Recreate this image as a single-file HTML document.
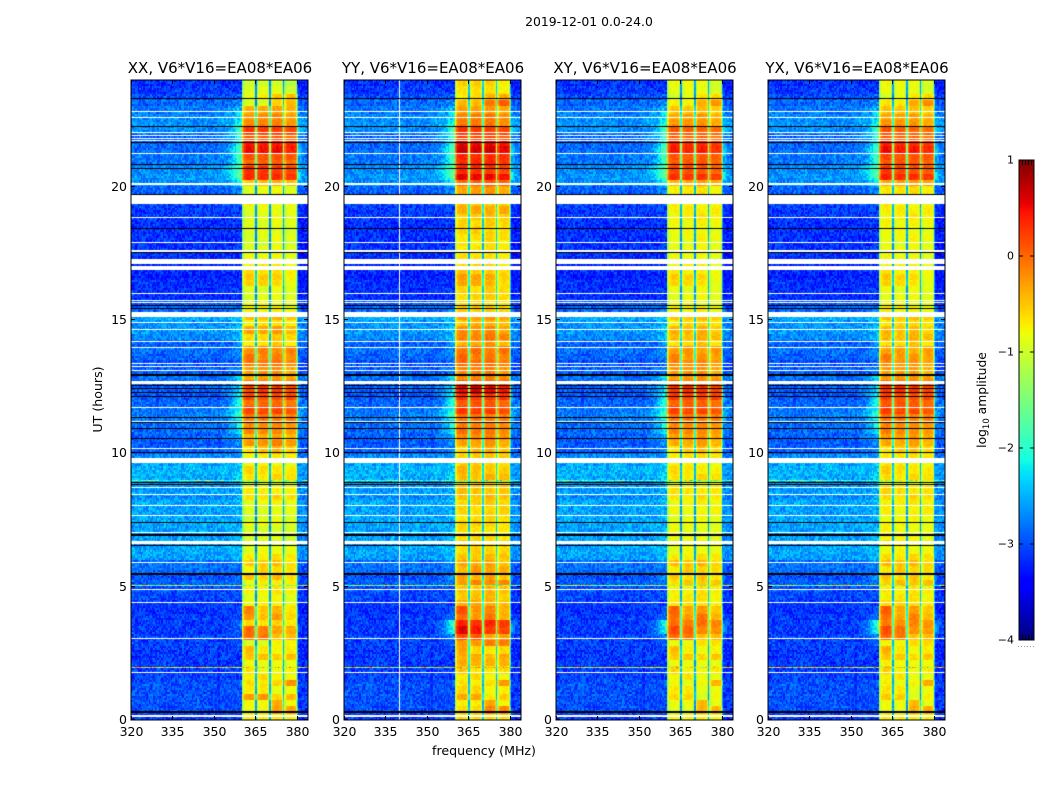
<!DOCTYPE html>
<html>
<head>
<meta charset="utf-8">
<title>2019-12-01 0.0-24.0</title>
<style>
html,body{margin:0;padding:0;background:#fff;}
#figure{position:relative;width:1050px;height:800px;overflow:hidden;background:#fff;font-family:"DejaVu Sans","Liberation Sans",sans-serif;color:#000;}
canvas{position:absolute;display:block;}
#overlay{position:absolute;left:0;top:0;}
#overlay text{font-family:"DejaVu Sans","Liberation Sans",sans-serif;fill:#000;}
</style>
</head>
<body>
<div id="figure">
<svg id="overlay" width="1050" height="800" xmlns="http://www.w3.org/2000/svg">
  <text x="589" y="26" text-anchor="middle" font-size="12.4">2019-12-01 0.0-24.0</text>
  <text x="484" y="755" text-anchor="middle" font-size="12.6">frequency (MHz)</text>
  <text transform="translate(102,399.5) rotate(-90)" text-anchor="middle" font-size="12.6">UT (hours)</text>
  <text transform="translate(986,400) rotate(-90)" text-anchor="middle" font-size="12.3">log<tspan font-size="8.5" dy="3">10</tspan><tspan dy="-3"> amplitude</tspan></text>
</svg>
</div>
<script>
// ---- Chart data ----
const panelTitles = ["XX, V6*V16=EA08*EA06", "YY, V6*V16=EA08*EA06", "XY, V6*V16=EA08*EA06", "YX, V6*V16=EA08*EA06"];
const freqTicks = [320, 335, 350, 365, 380];
const utTicks = [0, 5, 10, 15, 20];
const colorbarTicks = [1, 0, -1, -2, -3, -4];

// Log10 amplitude of the observing band, one value per quarter hour from UT 0 to 24
const bandXX = [-.7,-.55,-.7,-.35, -.8,-.5,-.7,-.75, -.85,-.5,-.6,-.85, -.2,-.15,-.6,-.4, -.45,-.8,-.85,-.75, -.75,-.55,-.65,-.55, -.7,-.85,-.9,-.95, -.95,-.85,-.95,-.9, -.85,-.65,-.75,-.95, -.65,-.65,-.85,-.75, -.55,-.2,-.4,-.2, -.2,-.1,.15,-.05, .15,.2,-.1,-.35, -.3,-.1,-.15,-.2, -.65,-.6,-.35,-.7, -.45,-.75,-.85,-.9, -.9,-.65,-.6,-.65, -.75,-.85,-.9,-.95, -.9,-.95,-.9,-.9, -.9,-.75,-.85,-.85, -.45,.3,.25,0, .1,.45,.4,.05, .25,-.2,-.25,-.35, -.75,-.65,-.9,-1];
const bandYY = [-.6,-.4,-.65,-.45, -.7,-.55,-.7,-.6, -.4,-.4,-.5,-.2, -.05,.4,.35,-.2, -.2,-.4,-.5,-.5, -.2,-.4,-.35,-.4, -.5,-.6,-.6,-.65, -.65,-.6,-.65,-.6, -.6,-.5,-.5,-.6, -.45,-.5,-.6,-.55, -.5,-.3,-.2,-.1, -.15,-.1,.2,.05, .25,.5,.05,-.2, -.2,-.05,-.1,-.1, -.35,-.15,-.25,-.45, -.3,-.55,-.65,-.6, -.6,-.45,-.4,-.55, -.65,-.7,-.7,-.7, -.65,-.6,-.6,-.55, -.4,-.5,-.6,-.3, .05,.5,.25,.3, .3,.6,.5,.15, .25,-.15,-.15,-.3, -.25,-.55,-.65,-.55];
const bandXY = [-.75,-.65,-.75,-.7, -.8,-.7,-.75,-.7, -.85,-.55,-.65,-.75, -.2,0,-.05,-.2, -.3,-.7,-.7,-.75, -.55,-.6,-.6,-.5, -.7,-.85,-.8,-.85, -.85,-.85,-.85,-.8, -.8,-.7,-.7,-.85, -.65,-.7,-.8,-.7, -.6,-.35,-.3,-.2, -.2,-.1,.15,0, .2,.25,-.1,-.3, -.3,-.2,-.25,-.3, -.6,-.45,-.45,-.65, -.5,-.75,-.85,-.85, -.85,-.7,-.65,-.75, -.8,-.85,-.85,-.85, -.8,-.85,-.8,-.75, -.75,-.75,-.8,-.7, -.35,.25,.1,.05, .05,.35,.3,0, .05,-.3,-.35,-.5, -.55,-.8,-.85,-.8];
const bandYX = [-.7,-.6,-.75,-.65, -.8,-.65,-.75,-.7, -.8,-.55,-.6,-.7, -.2,-.05,-.15,-.25, -.3,-.65,-.7,-.75, -.5,-.6,-.6,-.5, -.65,-.8,-.75,-.8, -.8,-.8,-.8,-.75, -.75,-.65,-.65,-.8, -.65,-.65,-.75,-.7, -.6,-.35,-.3,-.2, -.2,-.1,.15,.05, .15,.25,-.1,-.3, -.35,-.25,-.25,-.35, -.6,-.45,-.5,-.65, -.5,-.75,-.85,-.85, -.85,-.7,-.65,-.75, -.8,-.85,-.85,-.85, -.8,-.85,-.8,-.75, -.75,-.75,-.8,-.65, -.3,.3,.15,.05, .1,.4,.3,0, .05,-.3,-.35,-.5, -.5,-.8,-.85,-.8];

// Per-subband departure from the band level, one value per quarter hour
const subband1Swing = [0,-.25,-.1,.1, .1,-.1,0,.1, 0,0,.15,-.1, .15,.15,0,.15, .3,0,-.05,0, -.1,.1,-.1,.05, 0,-.05,.05,0, .05,0,-.05,0, -.05,0,.05,-.05, 0,.1,0,-.05, -.1,0,0,.05, .05,0,.05,0, .05,0,.05,-.05, 0,.05,.1,0, -.05,0,.05,-.1, 0,.05,0,-.05, 0,.1,.1,.05, 0,.05,-.05,0, -.05,0,.05,-.05, 0,.05,0,-.05, -.05,.05,.05,0, .05,.05,.05,.05, .05,.05,0,0, -.2,-.2,0,0];
const subband2Swing = [0,-.25,-.1,.1, .1,-.2,.1,-.1, 0,.05,-.1,-.1, .1,0,-.05,-.1, -.1,.05,0,-.05, .05,-.05,.1,0, -.05,.05,0,.05, 0,.05,0,-.05, .05,-.05,0,.05, -.05,0,.05,0, .05,-.05,0,0, 0,.05,0,.05, 0,.05,0,.05, .05,0,-.05,.05, 0,-.05,0,.05, -.05,0,.05,0, -.05,.1,.05,0, .05,0,0,-.05, 0,.05,-.05,0, .05,0,-.05,0, 0,0,0,.05, 0,0,0,0, 0,.05,.05,0, -.2,-.1,0,0];
const subband3Swing = [0,.2,.3,-.3, -.1,-.1,-.1,-.1, 0,-.1,-.2,.1, -.3,-.2,0,.1, 0,0,.05,.05, 0,.1,0,.05, .05,0,-.05,0, -.05,0,.05,0, .05,.05,-.05,0, .05,-.05,0,.05, .1,.05,.05,0, 0,-.05,0,0, -.05,0,-.05,.05, .05,.05,0,-.05, .1,.05,.05,.05, .05,0,-.05,.05, .05,0,0,0, .05,0,.05,.05, .05,0,.05,.05, 0,-.05,.05,.05, .05,0,-.05,.05, 0,0,0,0, -.05,.05,.05,0, .15,.1,0,0];
const subband4Swing = [0,.2,-.1,-.1, 0,.3,-.1,0, 0,.05,-.1,.1, -.2,-.2,-.1,-.2, -.2,-.05,-.05,0, .05,-.1,0,-.1, 0,0,0,-.05, 0,-.05,0,.05, 0,0,0,0, 0,-.05,-.05,0, 0,-.05,-.05,-.05, 0,0,-.05,-.05, 0,-.05,0,0, -.05,-.05,-.05,.05, -.1,0,-.1,0, -.05,-.05,0,0, 0,-.15,-.15,-.05, -.05,-.05,0,-.05, 0,-.05,0,0, .05,0,0,-.05, 0,-.05,-.05,-.05, 0,-.05,-.05,-.05, -.05,-.05,-.05,-.05, .3,.2,-.1,-.15];

// Log10 amplitude outside the band, one value per quarter hour
const backgroundLevels = [-3.1,-3,-3,-3, -3,-3,-3.05,-3.1, -3.1,-3.1,-3.1,-3.05, -3.05,-3.1,-3.1,-3.1, -3.15,-3.1,-3.05,-3, -2.9,-3,-2.85,-2.8, -2.6,-2.55,-2.6,-2.6, -2.6,-2.55,-2.6,-2.6, -2.55,-2.65,-2.6,-2.65, -2.55,-2.5,-2.55,-2.7, -2.9,-2.95,-2.9,-2.85, -2.85,-2.75,-2.8,-2.9, -2.95,-2.9,-2.85,-2.8, -2.95,-3,-2.9,-2.85, -2.9,-2.7,-2.65,-2.7, -2.55,-2.9,-2.95,-3.15, -3.15,-3.15,-3.2,-3.2, -3.2,-3.2,-3.15,-3.15, -3.15,-3.15,-3.15,-3.1, -3.1,-3.05,-2.95,-2.9, -2.7,-2.65,-2.7,-2.8, -2.8,-2.85,-2.9,-2.9, -2.7,-2.65,-2.7,-2.8, -2.9,-3,-3.1,-3.15];
// Extra log10 amplitude in the band shoulder (350-360 MHz), one value per quarter hour
const shoulderLevels = [0,0,0,0, 0,0,0,0, 0,0,0,.1, .4,1.15,1.15,.3, .1,0,0,0, .1,.3,.1,.1, .1,.1,.1,.1, .1,.1,.1,.1, .1,.1,.1,.1, .2,.2,.1,.1, .2,.3,.5,.7, .8,.9,.9,.9, .8,.7,.6,.4, .2,.2,.2,.2, .2,.3,.3,.2, .2,.1,0,0, 0,0,0,0, 0,0,0,0, 0,0,0,0, 0,0,.1,.2, .6,1,1.1,1, 1,1.2,1.1,1, .9,.7,.5,.4, .2,.1,0,0];
const earlyShoulderGain = [.2, 1, .9, 1];
const lateShoulderGain = [.95, 1, 1, .9];

// Spectral shapes: offsets per half-MHz channel
const subbandTemplate = [-.35,-.1,0,0,.02,.02,0,-.05,-.3,-1.8];
const subbandOffsetsXX = [0,.02,.04,0];
const subbandOffsetsYY = [.03,.03,.04,0];
const subbandOffsetsXY = [.02,.02,.04,0];
const subbandOffsetsYX = [.05,.02,.02,0];
const bandEdgeOffset = -.6;
const shoulderShape = [0,0,.02,.04,.06,.08,.1,.12,.15,.18,.22,.27,.33,.4,.5,.6,.72,.84,.94,1];
const outerBandShape = [.55,.45,.38,.3,.25,.2,.15,.1];
// Hand-set fine grain added to every cell
const grain = [.11,-.19,.05,.23,-.08,-.27,.16,.02,-.13,.29,-.04,-.22,.09,.18,-.16,.26,-.02,-.25,.13,-.09,.21,.04,-.18,.07,-.29,.15,-.06,.24,-.12,.01,.19,-.21,.08,-.03,.27,-.15,.12,-.26,.03,.2,-.1,-.17,.25,.06,-.23,.14,-.05,.17,-.28,.1,-.01,.22,-.14,.28,-.07,-.2,.04,.16,-.24,.09,-.11,.3,-.03,-.16,.13,.07,-.19];

// Flagged time rows: [UT hours, duration in hours]
const whiteRows = [[22.79,.05],[22.55,.05],[22,.05],[21.9,.05],[21.77,.05],[21.71,.04],[21.21,.05],[20.05,.09],[19.37,.33],[18.82,.05],[17.87,.05],[17.57,.06],[17.08,.2],[16.87,.16],[15.96,.05],[15.7,.05],[15.62,.05],[15.11,.19],[14.86,.05],[14.62,.05],[14.16,.05],[13.94,.05],[13.34,.05],[13.22,.05],[13.06,.05],[12.6,.1],[11.69,.05],[11.16,.05],[10.15,.05],[9.61,.2],[8.69,.05],[8.42,.05],[8.01,.05],[7.62,.05],[7,.05],[6.6,.11],[5.88,.05],[4.86,.05],[4.37,.05],[3.03,.05],[1.75,.05],[.1,.08]];
const blackRows = [[23.3,.04],[22.22,.04],[21.62,.04],[20.82,.04],[20.65,.04],[19.7,.04],[18.4,.04],[17.51,.04],[15.51,.04],[15.41,.04],[12.95,.04],[12.9,.04],[12.52,.04],[12.41,.04],[12.25,.04],[12.1,.04],[11.33,.04],[11.15,.04],[10.9,.04],[10.55,.04],[10,.04],[8.9,.04],[8.81,.04],[7.37,.05],[6.91,.07],[6.53,.05],[5.46,.07],[.27,.06]];
// Narrowband interference rows: [UT hours, log10 amplitude]
const spikeRows = [[2,-.8],[5.05,-1.3],[9,-1.6],[22.05,-1.4]];
// Flagged channel in the YY panel: MHz
const yyWhiteChannels = [340];

// ---- Layout and scales ----
const panelLefts = [131, 344, 556, 768];
const panelWidth = 177;
const plotTop = 80;
const plotBottom = 720;
const freqMin = 320, freqMax = 384;
const utMax = 24;
const colorMin = -4, colorMax = 1;
const cbar = {left: 1019, right: 1034, top: 160, bottom: 640};

function xScale(panelLeft, mhz) { return panelLeft + (mhz - freqMin) / (freqMax - freqMin) * panelWidth; }
function yScale(ut) { return plotBottom - ut / utMax * (plotBottom - plotTop); }
function segment(points, t) {
  for (let i = 1; i < points.length; i++) {
    if (t <= points[i][0]) {
      const a = points[i - 1], b = points[i];
      return a[1] + (t - a[0]) / (b[0] - a[0]) * (b[1] - a[1]);
    }
  }
  return points[points.length - 1][1];
}
function jet(v) {
  const t = Math.max(0, Math.min(1, (v - colorMin) / (colorMax - colorMin)));
  const r = segment([[0,0],[.35,0],[.66,1],[.89,1],[1,.5]], t);
  const g = segment([[0,0],[.125,0],[.375,1],[.64,1],[.91,0],[1,0]], t);
  const b = segment([[0,.5],[.11,1],[.34,1],[.65,0],[1,0]], t);
  return "rgb(" + Math.round(r * 255) + "," + Math.round(g * 255) + "," + Math.round(b * 255) + ")";
}

const bandSeries = [bandXX, bandYY, bandXY, bandYX];
const subbandSeries = [subbandOffsetsXX, subbandOffsetsYY, subbandOffsetsXY, subbandOffsetsYX];
const swingSeries = [subband1Swing, subband2Swing, subband3Swing, subband4Swing];
const channelStep = 0.5;
const rowStep = 0.075;

function grainAt(r, c) { return grain[(r * 17 + c * 5 + (r * c) % 11) % grain.length]; }

function cellValue(p, ut, mhz, r, c) {
  const q = Math.min(95, Math.floor(ut / 0.25));
  const n = grainAt(r, c);
  if (mhz >= 360 && mhz < 380.5) {
    const offset = mhz - 360.5;
    if (offset < 0) return bandSeries[p][q] + bandEdgeOffset + n * 0.3;
    const sub = Math.min(3, Math.floor(offset / 5));
    const ch = Math.min(9, Math.floor((offset - sub * 5) / channelStep));
    return bandSeries[p][q] + subbandSeries[p][sub] + swingSeries[sub][q] + subbandTemplate[ch] + n * 0.3;
  }
  const gain = (ut < 6 ? earlyShoulderGain : lateShoulderGain)[p] * shoulderLevels[q];
  let v = backgroundLevels[q];
  if (mhz >= 350 && mhz < 360) {
    v += gain * shoulderShape[Math.floor((mhz - 350) / channelStep)];
  } else if (mhz >= 380) {
    v += gain * outerBandShape[Math.min(7, Math.floor((mhz - 380) / channelStep))] - 0.12;
  }
  return v + n;
}

const figure = document.getElementById("figure");
const overlay = document.getElementById("overlay");
const SVGNS = "http://www.w3.org/2000/svg";

function addLine(x1, y1, x2, y2, name) {
  const el = document.createElementNS(SVGNS, "line");
  el.setAttribute("x1", x1); el.setAttribute("y1", y1);
  el.setAttribute("x2", x2); el.setAttribute("y2", y2);
  el.setAttribute("stroke", "#000"); el.setAttribute("stroke-width", "1");
  
  
  overlay.appendChild(el);
}
function addText(x, y, str, size, anchor, name) {
  const el = document.createElementNS(SVGNS, "text");
  el.setAttribute("x", x); el.setAttribute("y", y);
  el.setAttribute("font-size", size); el.setAttribute("text-anchor", anchor);
  el.textContent = str;
  
  
  overlay.appendChild(el);
}
function addFrame(x, y, w, h, name) {
  const el = document.createElementNS(SVGNS, "rect");
  el.setAttribute("x", x); el.setAttribute("y", y);
  el.setAttribute("width", w); el.setAttribute("height", h);
  el.setAttribute("fill", "none"); el.setAttribute("stroke", "#000"); el.setAttribute("stroke-width", "1");
  
  
  overlay.appendChild(el);
}

panelLefts.forEach(function (left, p) {
  const canvas = document.createElement("canvas");
  canvas.width = panelWidth;
  canvas.height = plotBottom - plotTop;
  canvas.style.left = left + "px";
  canvas.style.top = plotTop + "px";
  
  
  figure.insertBefore(canvas, overlay);
  const ctx = canvas.getContext("2d");
  const rows = Math.round(utMax / rowStep);
  const cols = Math.round((freqMax - freqMin) / channelStep);
  for (let r = 0; r < rows; r++) {
    const ut = r * rowStep;
    const y1 = Math.round(yScale(ut + rowStep)) - plotTop;
    const y0 = Math.round(yScale(ut)) - plotTop;
    for (let c = 0; c < cols; c++) {
      const mhz = freqMin + c * channelStep;
      const x0 = Math.round(xScale(left, mhz)) - left;
      const x1 = Math.round(xScale(left, mhz + channelStep)) - left;
      ctx.fillStyle = jet(cellValue(p, ut + rowStep / 2, mhz + channelStep / 2, r, c));
      ctx.fillRect(x0, y1, x1 - x0, y0 - y1);
    }
  }
  spikeRows.forEach(function (spike, s) {
    const y = Math.round(yScale(spike[0])) - plotTop;
    for (let c = 0; c < cols; c++) {
      const mhz = freqMin + c * channelStep;
      const x0 = Math.round(xScale(left, mhz)) - left;
      const x1 = Math.round(xScale(left, mhz + channelStep)) - left;
      ctx.fillStyle = jet(spike[1] + grainAt(s * 3 + p, c) * 3.2);
      ctx.fillRect(x0, y, x1 - x0, 1);
    }
  });
  if (p === 1) {
    ctx.fillStyle = "#fff";
    yyWhiteChannels.forEach(function (mhz) { ctx.fillRect(Math.round(xScale(left, mhz)) - left, 0, 1, plotBottom - plotTop); });
  }
  ctx.fillStyle = "#fff";
  whiteRows.forEach(function (row) {
    const yTop = yScale(row[0] + row[1]) - plotTop;
    ctx.fillRect(0, Math.round(yTop), panelWidth, Math.max(1, Math.round(yScale(row[0]) - yScale(row[0] + row[1]))));
  });
  ctx.fillStyle = "#000";
  blackRows.forEach(function (row) {
    const yTop = yScale(row[0] + row[1]) - plotTop;
    ctx.fillRect(0, Math.round(yTop), panelWidth, Math.max(1, Math.round(yScale(row[0]) - yScale(row[0] + row[1]))));
  });

  addFrame(left, plotTop, panelWidth, plotBottom - plotTop, "panel-frame");
  addText(left + panelWidth / 2 + 0.5, 73, panelTitles[p], 15, "middle", "panel-title");
  freqTicks.forEach(function (f) {
    const x = Math.round(xScale(left, f)) + 0.5;
    addLine(x, plotBottom, x, plotBottom - 4, "x-tick");
    addLine(x, plotTop, x, plotTop + 4, "x-tick-top");
    addText(x, 736, String(f), 12.5, "middle", "x-tick-label");
  });
  utTicks.forEach(function (u) {
    const y = Math.round(yScale(u)) - 0.5;
    addLine(left, y, left + 4, y, "y-tick");
    addLine(left + panelWidth, y, left + panelWidth - 4, y, "y-tick-right");
    addText(left - 4, y + 4.5, String(u), 12.5, "end", "y-tick-label");
  });
});

// ---- Colorbar ----
const cbarCanvas = document.createElement("canvas");
cbarCanvas.width = cbar.right - cbar.left;
cbarCanvas.height = cbar.bottom - cbar.top;
cbarCanvas.style.left = cbar.left + "px";
cbarCanvas.style.top = cbar.top + "px";


figure.insertBefore(cbarCanvas, overlay);
const cbarCtx = cbarCanvas.getContext("2d");
for (let y = 0; y < cbarCanvas.height; y++) {
  cbarCtx.fillStyle = jet(colorMax - (y + 0.5) / cbarCanvas.height * (colorMax - colorMin));
  cbarCtx.fillRect(0, y, cbarCanvas.width, 1);
}
addFrame(cbar.left, cbar.top, cbar.right - cbar.left, cbar.bottom - cbar.top, "colorbar-frame");
colorbarTicks.forEach(function (t) {
  const y = cbar.top + (colorMax - t) / (colorMax - colorMin) * (cbar.bottom - cbar.top);
  addLine(cbar.left, y, cbar.left + 4, y, "colorbar-tick");
  addLine(cbar.right, y, cbar.right - 4, y, "colorbar-tick-right");
  addText(cbar.left - 5, y + 3.5, t < 0 ? "\u2212" + Math.abs(t) : String(t), 11, "end", "colorbar-tick-label");
});
[1022.5, 1025.5, 1028.5, 1031.5].forEach(function (x) {
  addLine(x, cbar.top, x, cbar.top + 5, "colorbar-top-mark");
  addLine(x, cbar.bottom, x, cbar.bottom - 5, "colorbar-bottom-mark");
});
[1018, 1021, 1024, 1027, 1030, 1033].forEach(function (x) {
  const dot = document.createElementNS(SVGNS, "rect");
  dot.setAttribute("x", x); dot.setAttribute("y", 646);
  dot.setAttribute("width", 1); dot.setAttribute("height", 1);
  dot.setAttribute("fill", "#999");
  
  
  overlay.appendChild(dot);
});
</script>
</body>
</html>
